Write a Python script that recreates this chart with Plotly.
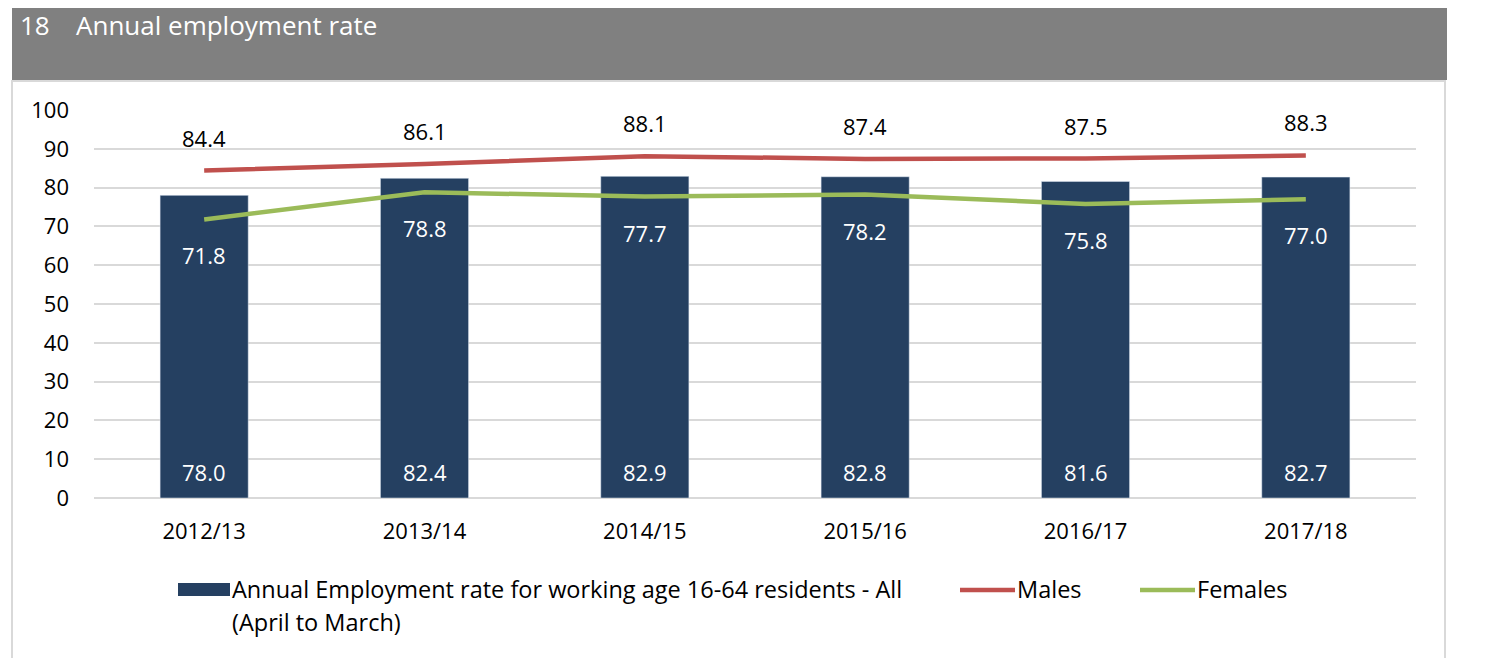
import plotly.graph_objects as go

categories = ["2012/13", "2013/14", "2014/15", "2015/16", "2016/17", "2017/18"]
all_rate = [78.0, 82.4, 82.9, 82.8, 81.6, 82.7]
males = [84.4, 86.1, 88.1, 87.4, 87.5, 88.3]
females = [71.8, 78.8, 77.7, 78.2, 75.8, 77.0]
y_ticks = [0, 10, 20, 30, 40, 50, 60, 70, 80, 90, 100]

W, H = 1485, 658
OFF = 8  # page body margin
# plot area in screen pixels (reference)
SL, SR, ST, SB = 94, 1416, 110, 498
L, R, T, B = SL - OFF, SR - OFF, ST - OFF, SB - OFF


def px(x):
    return (x - SL) / (SR - SL)


def py(y):
    return (SB - y) / (SB - ST)


FONT = "Open Sans"
FS = 22
BAR_C = "#254061"
MALE_C = "#C0504D"
FEM_C = "#9BBB59"

fig = go.Figure()
fig.add_trace(go.Bar(x=categories, y=all_rate, marker_color=BAR_C, width=0.4,
                     showlegend=False, hoverinfo="y"))
fig.add_trace(go.Scatter(x=categories, y=males, mode="lines",
                         line=dict(color=MALE_C, width=4.5), showlegend=False))
fig.add_trace(go.Scatter(x=categories, y=females, mode="lines",
                         line=dict(color=FEM_C, width=4.5), showlegend=False))

ann = []
for c, v in zip(categories, all_rate):
    ann.append(dict(x=c, y=0, yshift=26, text=f"{v:.1f}", showarrow=False,
                    font=dict(family=FONT, size=FS, color="white")))
for c, v in zip(categories, males):
    ann.append(dict(x=c, y=v, yshift=33, text=f"{v:.1f}", showarrow=False,
                    font=dict(family=FONT, size=FS, color="black")))
for c, v in zip(categories, females):
    ann.append(dict(x=c, y=v, yshift=-36, text=f"{v:.1f}", showarrow=False,
                    font=dict(family=FONT, size=FS, color="white")))

# Header title
ann.append(dict(xref="paper", yref="paper", x=px(18), y=py(25), xanchor="left",
                yanchor="middle", text="18", showarrow=False,
                font=dict(family=FONT, size=26, color="white")))
ann.append(dict(xref="paper", yref="paper", x=px(74), y=py(25), xanchor="left",
                yanchor="middle", text="Annual employment rate", showarrow=False,
                font=dict(family=FONT, size=26, color="white")))

# Legend texts
LFS = 23.5
ann.append(dict(xref="paper", yref="paper", x=px(230), y=py(589), xanchor="left",
                yanchor="middle", text="Annual Employment rate for working age 16-64 residents - All",
                showarrow=False, font=dict(family=FONT, size=LFS, color="black")))
ann.append(dict(xref="paper", yref="paper", x=px(230), y=py(622), xanchor="left",
                yanchor="middle", text="(April to March)",
                showarrow=False, font=dict(family=FONT, size=LFS, color="black")))
ann.append(dict(xref="paper", yref="paper", x=px(1015), y=py(589), xanchor="left",
                yanchor="middle", text="Males",
                showarrow=False, font=dict(family=FONT, size=LFS, color="black")))
ann.append(dict(xref="paper", yref="paper", x=px(1195), y=py(589), xanchor="left",
                yanchor="middle", text="Females",
                showarrow=False, font=dict(family=FONT, size=LFS, color="black")))

shapes = [
    dict(type="rect", xref="paper", yref="paper", x0=px(12), x1=px(1447),
         y0=py(80), y1=py(5), fillcolor="#808080", line=dict(width=0), layer="below"),
    dict(type="rect", xref="paper", yref="paper", x0=px(12), x1=px(1445),
         y0=py(672), y1=py(81), fillcolor="rgba(0,0,0,0)",
         line=dict(color="#D9D9D9", width=2), layer="below"),
    dict(type="rect", xref="paper", yref="paper", x0=px(178), x1=px(230),
         y0=py(596), y1=py(583), fillcolor=BAR_C, line=dict(width=0)),
    dict(type="line", xref="paper", yref="paper", x0=px(960), x1=px(1015),
         y0=py(590), y1=py(590), line=dict(color=MALE_C, width=4.5)),
    dict(type="line", xref="paper", yref="paper", x0=px(1140), x1=px(1195),
         y0=py(590), y1=py(590), line=dict(color=FEM_C, width=4.5)),
]

fig.update_layout(
    width=W, height=H,
    margin=dict(l=L, r=W - R, t=T, b=H - B, pad=0),
    paper_bgcolor="white", plot_bgcolor="white",
    annotations=ann, shapes=shapes,
    showlegend=False,
    font=dict(family=FONT, size=FS, color="black"),
)
fig.update_xaxes(type="category", showgrid=False, showline=False, zeroline=False,
                 ticks="", tickfont=dict(family=FONT, size=FS, color="black"),
                 ticklabelstandoff=18)
fig.update_yaxes(range=[0, 100], tickvals=y_ticks, showgrid=True, gridcolor="#D9D9D9",
                 gridwidth=1.5, zeroline=True, zerolinecolor="#D9D9D9", zerolinewidth=1.5,
                 showline=False, ticks="", tickfont=dict(family=FONT, size=FS, color="black"),
                 ticklabelstandoff=24)

fig.write_html("out.html")
